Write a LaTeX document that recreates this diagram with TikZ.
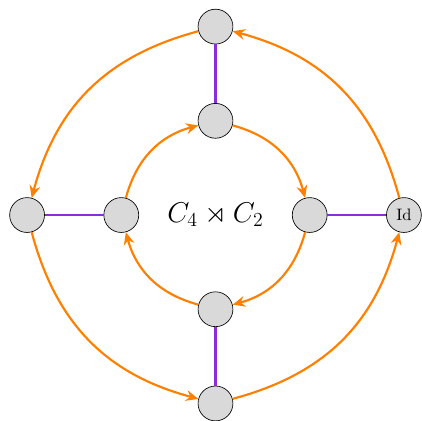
\documentclass[tikz,border=0pt]{standalone}
\usepackage{amssymb}
\usetikzlibrary{arrows.meta}
\definecolor{myorange}{RGB}{255,128,0}
\definecolor{myviolet}{RGB}{140,45,220}
\tikzset{
  elem/.style={circle,draw=black,fill=gray!30,minimum size=0.74cm,inner sep=0pt},
  rot/.style={draw=myorange,line width=1.3pt,-{Stealth[length=7.5pt,width=6.5pt,inset=2.5pt]}},
  refl/.style={draw=myviolet,line width=1.3pt}
}
\begin{document}
\begin{tikzpicture}
\useasboundingbox (-4.575,-4.352) rectangle (4.384,4.565);
\node[elem] (o0) at (4,0) {Id};
\node[elem] (o1) at (0,4) {};
\node[elem] (o2) at (-4,0) {};
\node[elem] (o3) at (0,-4) {};
\node[elem] (i0) at (2,0) {};
\node[elem] (i1) at (0,2) {};
\node[elem] (i2) at (-2,0) {};
\node[elem] (i3) at (0,-2) {};
\node (c) at (0,0) {\LARGE $C_4 \rtimes C_2$};
\draw[refl] (o0) -- (i0);
\draw[refl] (o1) -- (i1);
\draw[refl] (o2) -- (i2);
\draw[refl] (o3) -- (i3);
\draw[rot] (o0) to[bend right=30,looseness=1.03] (o1);
\draw[rot] (o1) to[bend right=30,looseness=1.03] (o2);
\draw[rot] (o2) to[bend right=30,looseness=1.03] (o3);
\draw[rot] (o3) to[bend right=30,looseness=1.03] (o0);
\draw[rot] (i2) to[bend left=30] (i1);
\draw[rot] (i1) to[bend left=30] (i0);
\draw[rot] (i0) to[bend left=30] (i3);
\draw[rot] (i3) to[bend left=30] (i2);
\end{tikzpicture}
\end{document}
